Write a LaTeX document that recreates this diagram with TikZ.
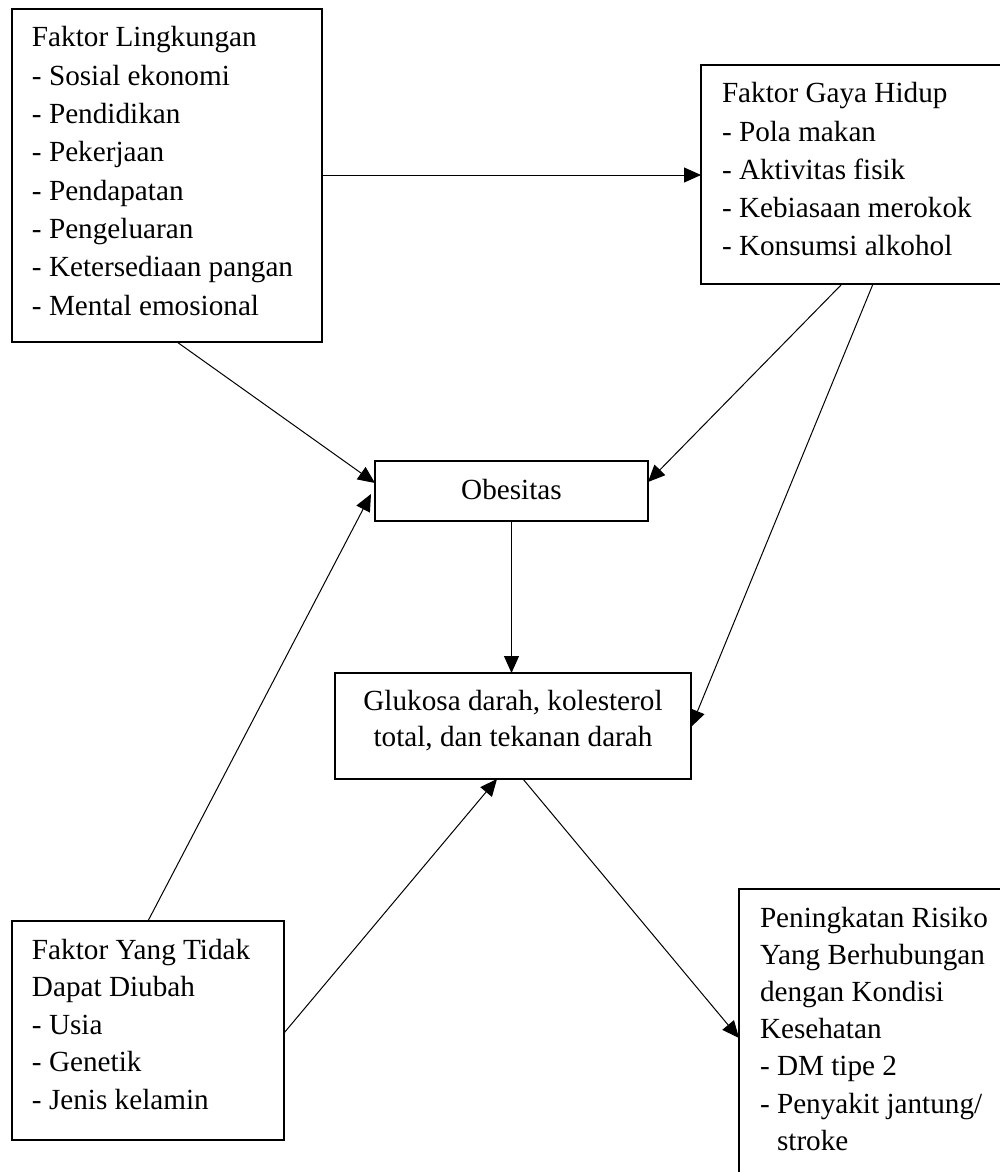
\documentclass[tikz,border=0pt]{standalone}
\usepackage{fontspec}
\setmainfont{Liberation Serif}
\usetikzlibrary{calc,arrows.meta}
\begin{document}
\begin{tikzpicture}[x=0.5pt,y=-0.5pt,
  box/.style={draw, line width=0.6pt, inner sep=0pt, outer sep=0pt, anchor=north west},
  txt/.style={inner sep=0pt, outer sep=0pt},
  conn/.style={line width=0.5pt, -{Triangle[length=8.5pt,width=7.5pt]}}]
\useasboundingbox (0,0) rectangle (1000,1172);
\clip (0,0) rectangle (1000,1172);
\fill[white] (0,0) rectangle (1000,1172);
% boxes
\node[box, minimum width=155pt, minimum height=166.5pt] (ling) at (12,9) {};
\node[box, minimum width=154.5pt, minimum height=109.5pt] (gaya) at (701,65) {};
\node[box, minimum width=136.5pt, minimum height=30pt] (obes) at (375,461) {};
\node[box, minimum width=178pt, minimum height=53pt] (gluk) at (335,673) {};
\node[box, minimum width=136pt, minimum height=109.5pt] (tidak) at (12,921) {};
\node[box, minimum width=135.5pt, minimum height=150pt] (ting) at (739,889) {};
% texts
\node[txt, anchor=base west, font=\fontsize{14.6pt}{19.15pt}\selectfont] (lingtext) at (32,47)
  {\parbox[t]{155pt}{Faktor Lingkungan\\- Sosial ekonomi\\- Pendidikan\\- Pekerjaan\\- Pendapatan\\- Pengeluaran\\- Ketersediaan pangan\\- Mental emosional}};
\node[txt, anchor=base west, font=\fontsize{14.6pt}{19.05pt}\selectfont] (gayatext) at (722,103)
  {\parbox[t]{140pt}{Faktor Gaya Hidup\\- Pola makan\\- Aktivitas fisik\\- Kebiasaan merokok\\- Konsumsi alkohol}};
\node[txt, anchor=base, font=\fontsize{14.6pt}{18pt}\selectfont] (obestext) at (511.5,499) {Obesitas};
\node[txt, anchor=base, font=\fontsize{14.6pt}{18pt}\selectfont] (gluktext) at (513,710)
  {\parbox[t]{176pt}{\centering Glukosa darah, kolesterol\\total, dan tekanan darah}};
\node[txt, anchor=base west, font=\fontsize{14.6pt}{18.8pt}\selectfont] (tidaktext) at (32,959)
  {\parbox[t]{134pt}{Faktor Yang Tidak\\Dapat Diubah\\- Usia\\- Genetik\\- Jenis kelamin}};
\node[txt, anchor=base west, font=\fontsize{14.6pt}{18.6pt}\selectfont] (tingtext) at (760,927)
  {\parbox[t]{130pt}{Peningkatan Risiko\\Yang Berhubungan\\dengan Kondisi\\Kesehatan\\- DM tipe 2\\- Penyakit jantung/\\\hphantom{-} stroke}};
% connectors
\draw[conn] ($(ling.north east)+(0,166)$) -- ($(gaya.north west)+(0,110)$);
\draw[conn] ($(ling.south west)+(165,0)$) -- ($(obes.north west)+(0,22)$);
\draw[conn] ($(gaya.south west)+(141,0)$) -- ($(obes.north east)+(0,21)$);
\draw[conn] ($(gaya.south west)+(172,0)$) -- ($(gluk.north east)+(0,54)$);
\draw[conn] (obes.south) -- (obes.south |- gluk.north);
\draw[conn] ($(tidak.north west)+(136,0)$) -- ($(obes.north west)+(-4,33)$);
\draw[conn] ($(tidak.north east)+(0,112)$) -- ($(gluk.south west)+(162,0)$);
\draw[conn] ($(gluk.south west)+(188,0)$) -- ($(ting.north west)+(0,149)$);
\end{tikzpicture}
\end{document}
